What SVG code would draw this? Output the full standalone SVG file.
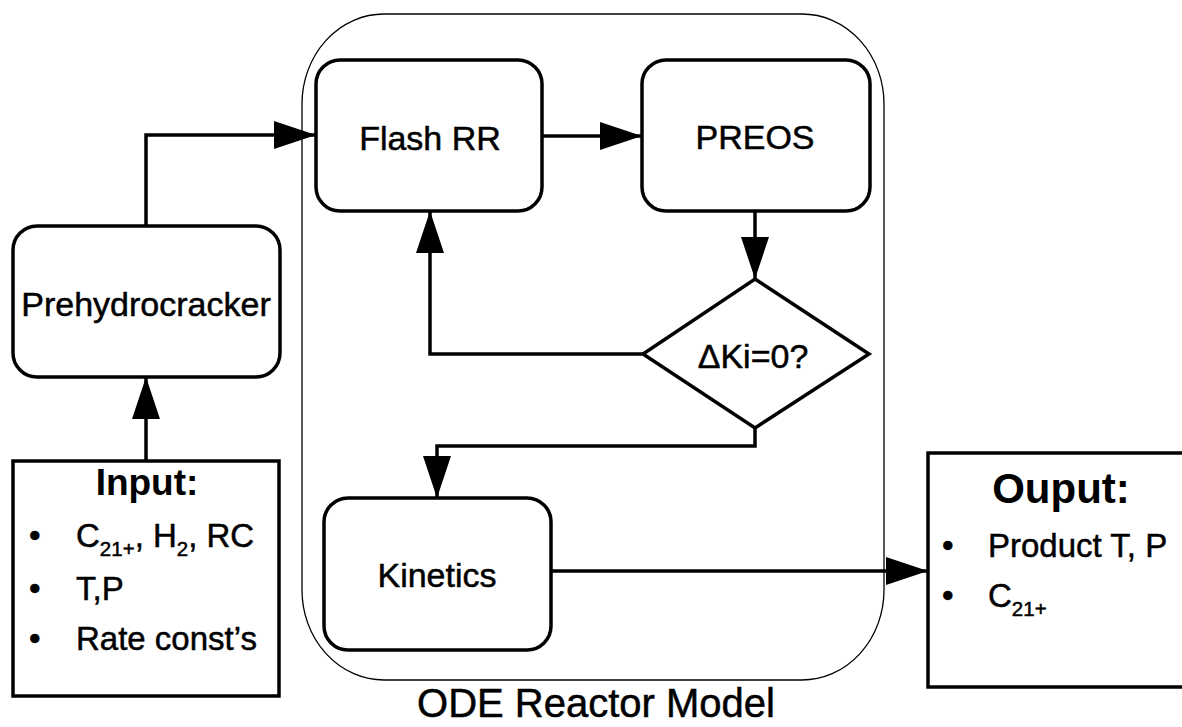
<svg xmlns="http://www.w3.org/2000/svg" width="1182" height="727" viewBox="0 0 1182 727">
<style>
.box{fill:#fff;stroke:#000;stroke-width:3.5}
.cont{fill:none;stroke:#000;stroke-width:1.3}
.conn{fill:none;stroke:#000;stroke-width:3.5}
text{font-family:"Liberation Sans",Arial,sans-serif;fill:#000;stroke:#000;stroke-width:0.5}
.lbl{font-size:34px;text-anchor:middle}
.item{font-size:33px}
.sub{font-size:20.5px}
.head{font-weight:bold;text-anchor:middle;stroke-width:0}
</style>
<defs>
<marker id="ah" markerUnits="userSpaceOnUse" markerWidth="42" markerHeight="28" refX="42" refY="14" orient="auto">
<path d="M0,0 L42,14 L0,28 z" fill="#000"/>
</marker>
</defs>
<g id="container">
<rect class="cont" x="302" y="14" width="582" height="666" rx="82" ry="90"/>
<text x="596" y="717" font-size="40" text-anchor="middle">ODE Reactor Model</text>
</g>
<g id="flash">
<rect class="box" x="316" y="60" width="226" height="151" rx="24"/>
<text class="lbl" x="430" y="150">Flash RR</text>
</g>
<g id="preos">
<rect class="box" x="642" y="60" width="228" height="151" rx="24"/>
<text class="lbl" x="755" y="149">PREOS</text>
</g>
<g id="decision">
<polygon class="box" points="755,279 869,354 755,428 643,354"/>
<text class="lbl" x="753" y="368">ΔKi=0?</text>
</g>
<g id="kinetics">
<rect class="box" x="324" y="498" width="227" height="152" rx="24"/>
<text class="lbl" x="437" y="587">Kinetics</text>
</g>
<g id="prehydrocracker">
<rect class="box" x="13" y="226" width="267" height="151" rx="24"/>
<text class="lbl" x="146" y="316" font-size="33">Prehydrocracker</text>
</g>
<g id="input">
<rect class="box" x="13" y="461" width="266" height="235"/>
<text class="head" x="147" y="495" font-size="37">Input:</text>
<text class="item" x="29" y="547">•</text>
<text class="item" x="76" y="547">C<tspan class="sub" dy="9">21+</tspan><tspan dy="-9">, H</tspan><tspan class="sub" dy="9">2</tspan><tspan dy="-9">, RC</tspan></text>
<text class="item" x="29" y="600">•</text>
<text class="item" x="76" y="600">T,P</text>
<text class="item" x="29" y="650">•</text>
<text class="item" x="76" y="650">Rate const’s</text>
</g>
<g id="output">
<rect class="box" x="928" y="453" width="270" height="234"/>
<text class="head" x="1061" y="503" font-size="42">Ouput:</text>
<text class="item" x="942" y="557">•</text>
<text class="item" x="988" y="557">Product T, P</text>
<text class="item" x="942" y="607">•</text>
<text class="item" x="988" y="607">C<tspan class="sub" dy="9">21+</tspan></text>
</g>
<g id="connectors">
<path class="conn" d="M146,226 V135 H316" marker-end="url(#ah)"/>
<path class="conn" d="M146,461 V377" marker-end="url(#ah)"/>
<path class="conn" d="M542,136 H642" marker-end="url(#ah)"/>
<path class="conn" d="M755,211 V279" marker-end="url(#ah)"/>
<path class="conn" d="M643,354 H430 V211" marker-end="url(#ah)"/>
<path class="conn" d="M755,428 V446 H437 V498" marker-end="url(#ah)"/>
<path class="conn" d="M551,571 H928" marker-end="url(#ah)"/>
</g>
</svg>
